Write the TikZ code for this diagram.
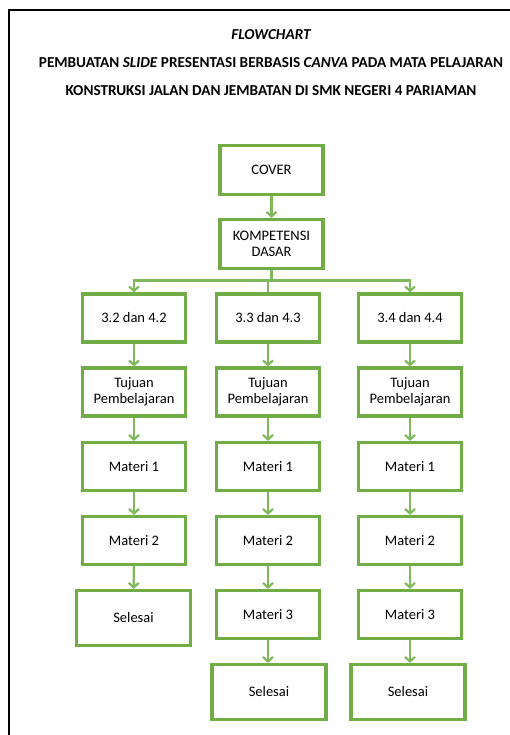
\documentclass[tikz,border=0pt]{standalone}
\usepackage{fontspec}
\setmainfont{Carlito}
\usetikzlibrary{arrows.meta}
\definecolor{boxgreen}{RGB}{112,173,71}
\definecolor{arrgreen}{RGB}{128,185,92}
\begin{document}
\begin{tikzpicture}[x=1pt,y=1pt,
  box/.style={draw=boxgreen, line width=3.2pt, fill=white, minimum width=103pt, minimum height=48pt, align=center, font=\fontsize{14.5}{15.5}\selectfont, inner sep=1pt},
  wbox/.style={box, minimum width=114pt, minimum height=55pt},
  conn/.style={draw=arrgreen, line width=2.2pt},
  arr/.style={conn, -{Straight Barb[length=4.5pt,width=10pt,line width=2.2pt]}},
  ttl/.style={font=\fontsize{15.2}{16}\selectfont\bfseries, inner sep=0pt}]
\useasboundingbox (0,0) rectangle (510,-735);
\fill[white] (0,0) rectangle (510,-735);
\draw[black, line width=2pt] (510,-10) -- (8.5,-10) -- (8.5,-736);
% title
\node[ttl] (t1) at (271,-35) {\itshape FLOWCHART};
\node[ttl] (t2) at (271,-63) {PEMBUATAN \textit{SLIDE} PRESENTASI BERBASIS \textit{CANVA} PADA MATA PELAJARAN};
\node[ttl] (t3) at (271,-91) {KONSTRUKSI JALAN DAN JEMBATAN DI SMK NEGERI 4 PARIAMAN};
% top
\node[box, minimum height=49pt] (cover) at (271.5,-170) {COVER};
\node[box, minimum height=49pt] (kd) at (271.5,-244) {KOMPETENSI\\DASAR};
\coordinate (br) at (271.5,-280.5);
% columns
\node[box] (a1) at (134,-318) {3.2 dan 4.2};
\node[box] (b1) at (268,-318) {3.3 dan 4.3};
\node[box] (c1) at (410,-318) {3.4 dan 4.4};
\node[box] (a2) at (134,-392) {Tujuan\\Pembelajaran};
\node[box] (b2) at (268,-392) {Tujuan\\Pembelajaran};
\node[box] (c2) at (410,-392) {Tujuan\\Pembelajaran};
\node[box] (a3) at (134,-466.5) {Materi 1};
\node[box] (b3) at (268,-466.5) {Materi 1};
\node[box] (c3) at (410,-466.5) {Materi 1};
\node[box] (a4) at (134,-540.5) {Materi 2};
\node[box] (b4) at (268,-540.5) {Materi 2};
\node[box] (c4) at (410,-540.5) {Materi 2};
\node[wbox] (a5) at (133.5,-618) {Selesai};
\node[box] (b5) at (268,-614.5) {Materi 3};
\node[box] (c5) at (410,-614.5) {Materi 3};
\node[wbox] (b6) at (269,-692) {Selesai};
\node[wbox] (c6) at (408,-692) {Selesai};
% connectors
\draw[arr] (cover) -- (kd);
\draw[conn] (kd.south) -- (br);
\draw[arr] (br) -| (a1.north);
\draw[arr] (br) -| (c1.north);
\draw[conn] (br) -| (b1.north);
\foreach \c in {a,b,c}{
  \draw[arr] (\c1) -- (\c2);
  \draw[arr] (\c2) -- (\c3);
  \draw[arr] (\c3) -- (\c4);
  \draw[arr] (\c4) -- (\c5);
}
\draw[arr] (b5.south) -- (b5.south |- b6.north);
\draw[arr] (c5.south) -- (c5.south |- c6.north);
\end{tikzpicture}
\end{document}
